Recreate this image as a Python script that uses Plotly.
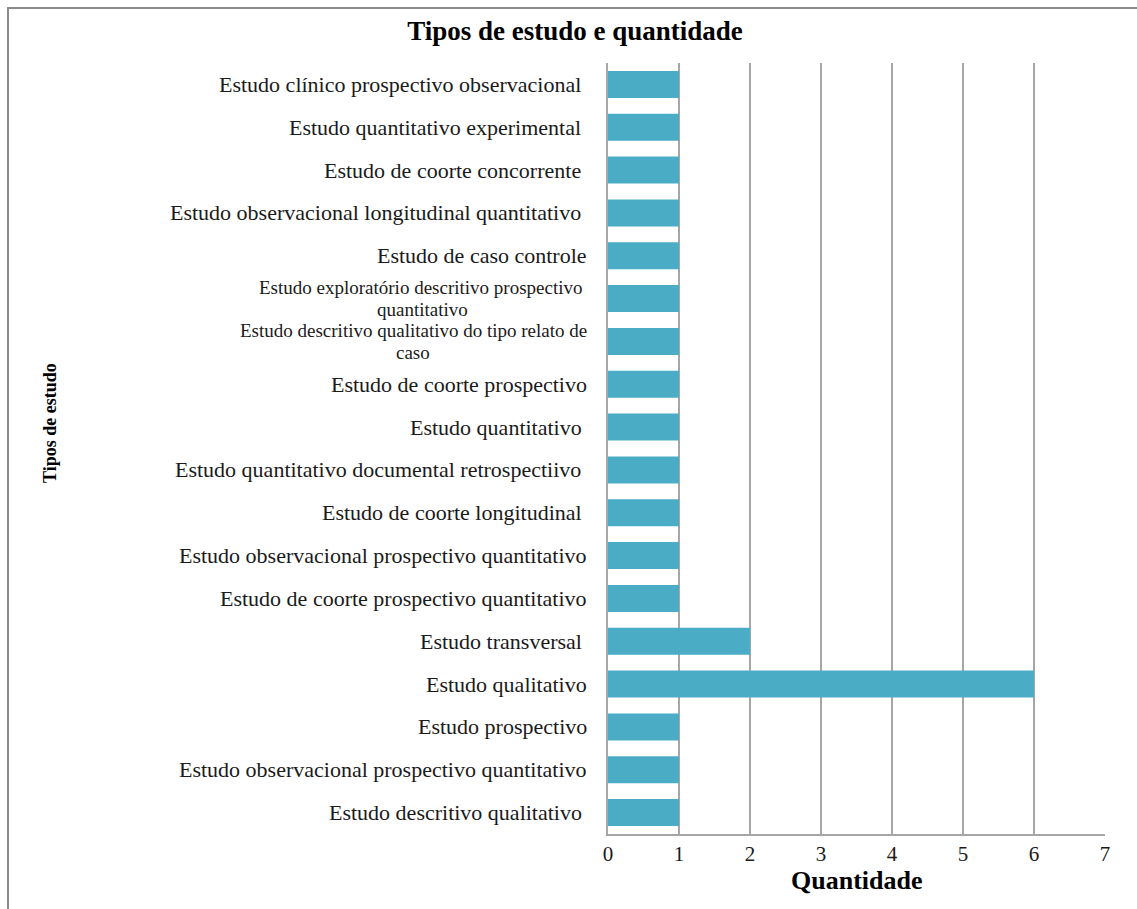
import plotly.graph_objects as go

# Data (top to bottom as in the reference)
tipos = [
    "Estudo clínico prospectivo observacional ",
    "Estudo quantitativo experimental ",
    "Estudo de coorte concorrente ",
    "Estudo observacional longitudinal quantitativo ",
    "Estudo de caso controle",
    "Estudo exploratório descritivo prospectivo <br>quantitativo",
    "Estudo descritivo qualitativo do tipo relato de<br>caso",
    "Estudo de coorte prospectivo",
    "Estudo quantitativo ",
    "Estudo quantitativo documental retrospectiivo ",
    "Estudo de coorte longitudinal ",
    "Estudo observacional prospectivo quantitativo",
    "Estudo de coorte prospectivo quantitativo",
    "Estudo transversal ",
    "Estudo qualitativo",
    "Estudo prospectivo",
    "Estudo observacional prospectivo quantitativo",
    "Estudo descritivo qualitativo ",
]
quantidade = [1, 1, 1, 1, 1, 1, 1, 1, 1, 1, 1, 1, 1, 2, 6, 1, 1, 1]
x_ticks = [0, 1, 2, 3, 4, 5, 6, 7]

FONT = "Liberation Serif"
BAR = "#4BACC6"
GRID = "#A6A6A6"
LABEL_SIZE = 22
WRAP_SIZE = 19
LINE_GAP = 21.4  # pixel distance between the two lines of a wrapped label
LABEL_XSHIFT = -19

# Times / Liberation Serif advance widths (1/1000 em), used to centre wrapped lines
_TW = {" ": 250, "\u00a0": 250, "a": 444, "b": 500, "c": 444, "d": 500, "e": 444,
       "f": 333, "g": 500, "h": 500, "i": 278, "j": 278, "k": 500, "l": 278,
       "m": 778, "n": 500, "o": 500, "p": 500, "q": 500, "r": 333, "s": 389,
       "t": 278, "u": 500, "v": 500, "w": 722, "x": 500, "y": 500, "z": 444,
       "E": 611, "ó": 500, "í": 278}

def text_width(s, size):
    return sum(_TW.get(c, 500) for c in s) / 1000 * size

W, H = 1137, 909
L, R, T, B = 608, 1105, 63, 834

def px_x(p):
    return (p - L) / (R - L)

def px_y(q):
    return (B - q) / (B - T)

def nbsp_tail(s):
    return s[:-1] + "\u00a0" if s.endswith(" ") else s

pos = list(range(len(tipos)))

fig = go.Figure(go.Bar(
    x=quantidade, y=pos, orientation="h",
    marker=dict(color=BAR, line=dict(width=0)),
    hoverinfo="skip",
))

label_font = dict(family=FONT, size=LABEL_SIZE, color="#1a1a1a")
wrap_font = dict(family=FONT, size=WRAP_SIZE, color="#1a1a1a")
annotations = []
for i, lab in enumerate(tipos):
    lines = [nbsp_tail(s) for s in lab.split("<br>")]
    if len(lines) == 1:
        annotations.append(dict(
            x=0, xref="x", y=i, yref="y", text=lines[0], showarrow=False,
            xanchor="right", yanchor="middle", xshift=LABEL_XSHIFT,
            font=label_font,
        ))
    else:
        annotations.append(dict(
            x=0, xref="x", y=i, yref="y", text=lines[0], showarrow=False,
            xanchor="right", yanchor="middle", xshift=LABEL_XSHIFT,
            yshift=LINE_GAP / 2, font=wrap_font,
        ))
        w1 = text_width(lines[0], WRAP_SIZE)
        annotations.append(dict(
            x=0, xref="x", y=i, yref="y", text=lines[1], showarrow=False,
            xanchor="center", yanchor="middle",
            xshift=LABEL_XSHIFT - 2 - w1 / 2,
            yshift=-LINE_GAP / 2, font=wrap_font,
        ))

annotations.append(dict(
    x=px_x(50), xref="paper", y=px_y(423), yref="paper",
    text="<b>Tipos de estudo</b>", textangle=-90, showarrow=False,
    xanchor="center", yanchor="middle",
    font=dict(family=FONT, size=18, color="#000000"),
))
annotations.append(dict(
    x=0.5, xref="paper", y=px_y(880), yref="paper",
    text="<b>Quantidade</b>", showarrow=False,
    xanchor="center", yanchor="middle",
    font=dict(family=FONT, size=26, color="#000000"),
))

fig.update_layout(
    width=W, height=H,
    margin=dict(l=L, r=W - R, t=T, b=H - B, pad=0),
    paper_bgcolor="white", plot_bgcolor="white",
    bargap=0.37,
    showlegend=False,
    title=dict(
        text="<b>Tipos de estudo e quantidade</b>",
        xref="container", x=575 / W, xanchor="center",
        yref="container", y=1 - 31 / H, yanchor="middle",
        font=dict(family=FONT, size=27, color="#000000"),
    ),
    xaxis=dict(
        range=[0, 7], tickvals=x_ticks, ticktext=[str(v) for v in x_ticks],
        showgrid=True, gridcolor=GRID, gridwidth=1.5,
        showline=True, linecolor=GRID, linewidth=1.5,
        zeroline=False, ticks="", ticklabelstandoff=0,
        tickfont=dict(family=FONT, size=21, color="#1a1a1a"),
        fixedrange=True,
    ),
    yaxis=dict(
        range=[len(tipos) - 0.5, -0.5],
        showticklabels=False, showgrid=False, zeroline=False,
        showline=True, linecolor=GRID, linewidth=1.5, ticks="",
        fixedrange=True,
    ),
    annotations=annotations,
    shapes=[dict(
        type="rect", xref="paper", yref="paper",
        x0=px_x(8), x1=px_x(1145), y0=px_y(920), y1=px_y(8),
        line=dict(color="#8C8C8C", width=2), fillcolor="rgba(0,0,0,0)",
        layer="above",
    )],
)

fig.write_html("out.html", config={"displayModeBar": False})
